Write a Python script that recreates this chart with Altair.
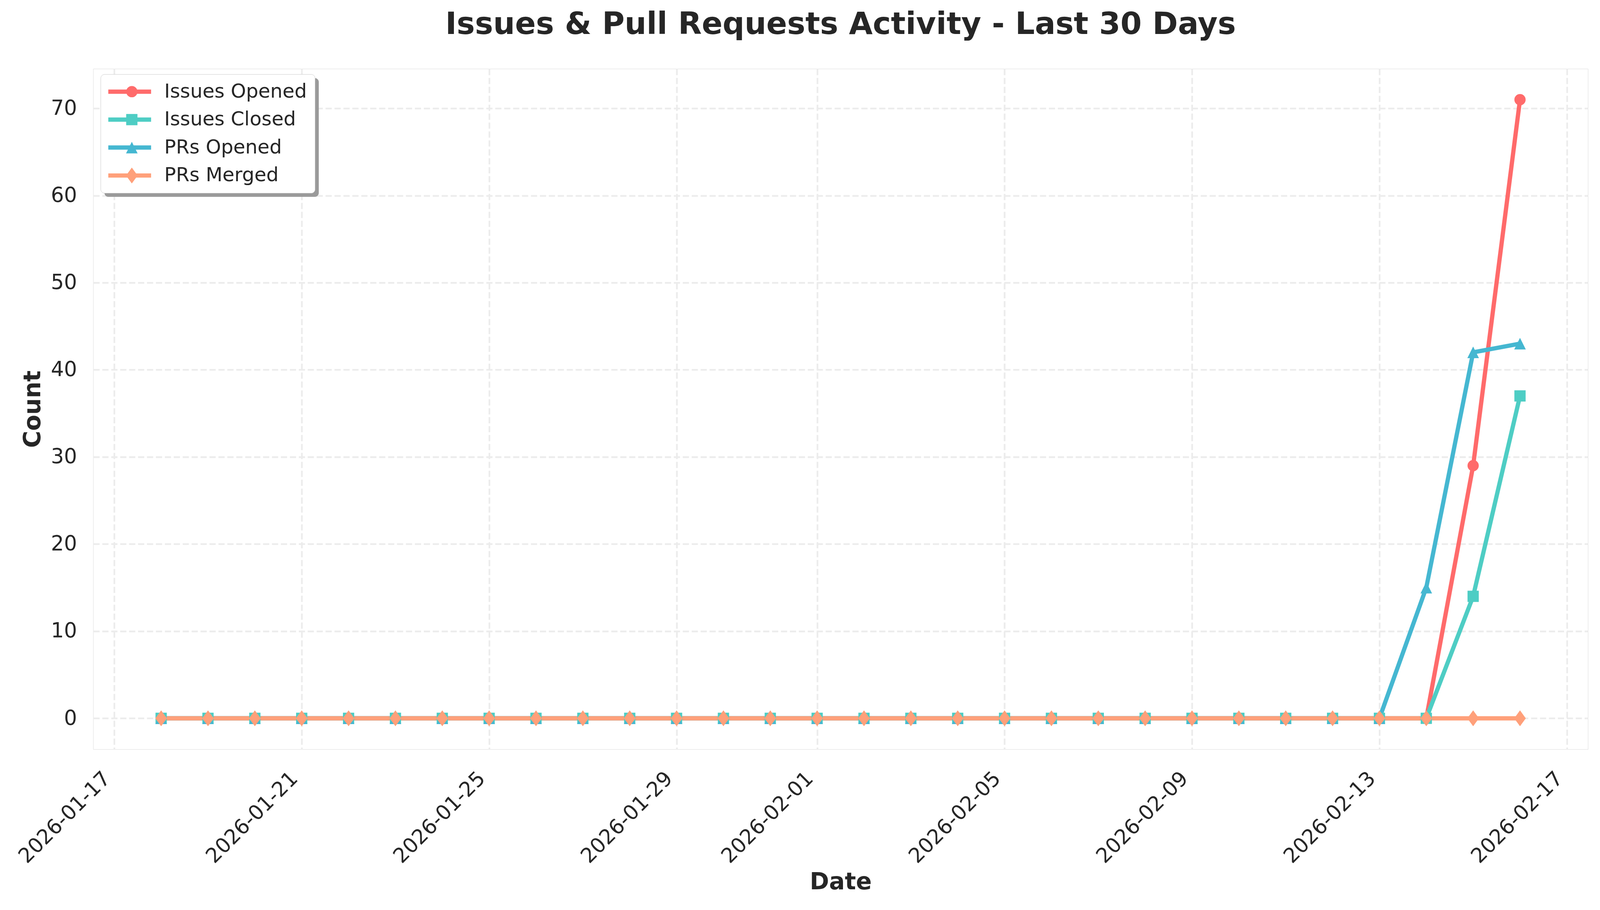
import pandas as pd
import altair as alt

# --- data ------------------------------------------------------------------
dates = [
    "2026-01-18", "2026-01-19", "2026-01-20", "2026-01-21", "2026-01-22",
    "2026-01-23", "2026-01-24", "2026-01-25", "2026-01-26", "2026-01-27",
    "2026-01-28", "2026-01-29", "2026-01-30", "2026-01-31", "2026-02-01",
    "2026-02-02", "2026-02-03", "2026-02-04", "2026-02-05", "2026-02-06",
    "2026-02-07", "2026-02-08", "2026-02-09", "2026-02-10", "2026-02-11",
    "2026-02-12", "2026-02-13", "2026-02-14", "2026-02-15", "2026-02-16",
]
issues_opened = [0, 0, 0, 0, 0, 0, 0, 0, 0, 0, 0, 0, 0, 0, 0,
                 0, 0, 0, 0, 0, 0, 0, 0, 0, 0, 0, 0, 0, 29, 71]
issues_closed = [0, 0, 0, 0, 0, 0, 0, 0, 0, 0, 0, 0, 0, 0, 0,
                 0, 0, 0, 0, 0, 0, 0, 0, 0, 0, 0, 0, 0, 14, 37]
prs_opened = [0, 0, 0, 0, 0, 0, 0, 0, 0, 0, 0, 0, 0, 0, 0,
              0, 0, 0, 0, 0, 0, 0, 0, 0, 0, 0, 0, 15, 42, 43]
prs_merged = [0, 0, 0, 0, 0, 0, 0, 0, 0, 0, 0, 0, 0, 0, 0,
              0, 0, 0, 0, 0, 0, 0, 0, 0, 0, 0, 0, 0, 0, 0]

series_names = ["Issues Opened", "Issues Closed", "PRs Opened", "PRs Merged"]
tick_days = [(1, 17), (1, 21), (1, 25), (1, 29), (2, 1), (2, 5), (2, 9), (2, 13), (2, 17)]
y_ticks = [0, 10, 20, 30, 40, 50, 60, 70]

# --- styling ----------------------------------------------------------------
colors = ["#FF6B6B", "#4ECDC4", "#45B7D1", "#FFA07A"]
# circle, square, triangle-up, diamond (paths scaled by sqrt(size)/2)
shapes = ["circle", "square", "M0,-1.03L1.03,1.03L-1.03,1.03Z",
          "M0,-1.41L1.03,0L0,1.41L-1.03,0Z"]
MARKER = 841
FONT = "DejaVu Sans"
TEXT = "#262626"
W, H = 3850, 1753

df = pd.DataFrame({
    "date": [d + "T00:00:00" for d in dates],
    "Issues Opened": issues_opened,
    "Issues Closed": issues_closed,
    "PRs Opened": prs_opened,
    "PRs Merged": prs_merged,
}).melt(id_vars="date", var_name="series", value_name="count")

x_dom = [alt.DateTime(year=2026, month=1, date=16, hours=13, minutes=12),
         alt.DateTime(year=2026, month=2, date=17, hours=10, minutes=48)]
x_vals = [alt.DateTime(year=2026, month=m, date=d) for m, d in tick_days]

grid = dict(grid=True, gridColor="#ececec", gridDash=[16, 7], gridWidth=4.4,
            domain=False, ticks=False, tickSize=0, labelFont=FONT,
            labelFontSize=53, labelColor=TEXT, labelLimit=1000,
            titleFont=FONT, titleFontSize=60, titleFontWeight="bold",
            titleColor=TEXT, titleAlign="center", titleBaseline="alphabetic")

x_enc = alt.X("date:T", title="Date",
              scale=alt.Scale(domain=x_dom),
              axis=alt.Axis(values=x_vals, format="%Y-%m-%d", labelAngle=315,
                            labelAlign="right", labelBaseline="bottom",
                            labelPadding=86, labelOverlap=False, labelFlush=False,
                            titleX=W / 2, titleY=360, titleAngle=0, **grid))
y_enc = alt.Y("count:Q", title="Count",
              scale=alt.Scale(domain=[-3.55, 74.55], nice=False, zero=False),
              axis=alt.Axis(values=y_ticks, labelPadding=42, labelFlush=False,
                            titleX=-137, titleY=H / 2, titleAngle=270, **grid))

leg_common = dict(title=None, orient="none", legendX=19, legendY=14,
                  padding=20, rowPadding=22, labelFont=FONT, labelFontSize=50,
                  labelColor=TEXT, labelLimit=1000, labelOffset=64,
                  symbolSize=MARKER)

# line swatches (drawn first), then the marker swatches on top of them
line_legend = alt.Legend(symbolType="M-3.8,0H3.8", symbolStrokeWidth=11,
                         symbolOffset=30, fillColor="white",
                         strokeColor="#cccccc", cornerRadius=10, zindex=1,
                         **leg_common)
point_legend = alt.Legend(symbolStrokeWidth=0, symbolOffset=35.5,
                          symbolOpacity=1, labelOpacity=0, zindex=2,
                          **leg_common)

lines = alt.Chart(df).mark_line(strokeWidth=11, strokeJoin="round").encode(
    x=x_enc, y=y_enc,
    color=alt.Color("series:N", sort=series_names,
                    scale=alt.Scale(domain=series_names, range=colors),
                    legend=line_legend),
)

points = alt.Chart(df).mark_point(filled=True, opacity=1, size=MARKER).encode(
    x=x_enc, y=y_enc,
    color=alt.Color("series:N", sort=series_names,
                    scale=alt.Scale(domain=series_names, range=colors),
                    legend=point_legend),
    shape=alt.Shape("series:N", sort=series_names,
                    scale=alt.Scale(domain=series_names, range=shapes),
                    legend=point_legend),
)

# drop shadow behind the legend box
shadow = alt.Chart(pd.DataFrame({"k": [0]})).mark_rect(
    color="#9a9a9a", cornerRadius=10
).encode(x=alt.value(29), x2=alt.value(581), y=alt.value(24), y2=alt.value(330))

chart = alt.layer(shadow, lines, points).resolve_scale(
    color="independent", shape="independent"
).resolve_legend(
    color="independent", shape="independent"
).properties(
    width=W, height=H,
    padding={"left": 232, "top": 162, "right": 23, "bottom": 399},
    autosize=alt.AutoSizeParams(type="none"),
    title=alt.TitleParams(
        text="Issues & Pull Requests Activity - Last 30 Days",
        font=FONT, fontSize=79, fontWeight="bold", color=TEXT,
        anchor="middle", frame="group", baseline="alphabetic", offset=11,
    ),
).configure_view(
    stroke="#c4c4c4", strokeWidth=5
).configure_legend(
    strokeWidth=4.5
).configure(background="white")

chart.save("out.html", embed_options={"renderer": "svg", "actions": False})
